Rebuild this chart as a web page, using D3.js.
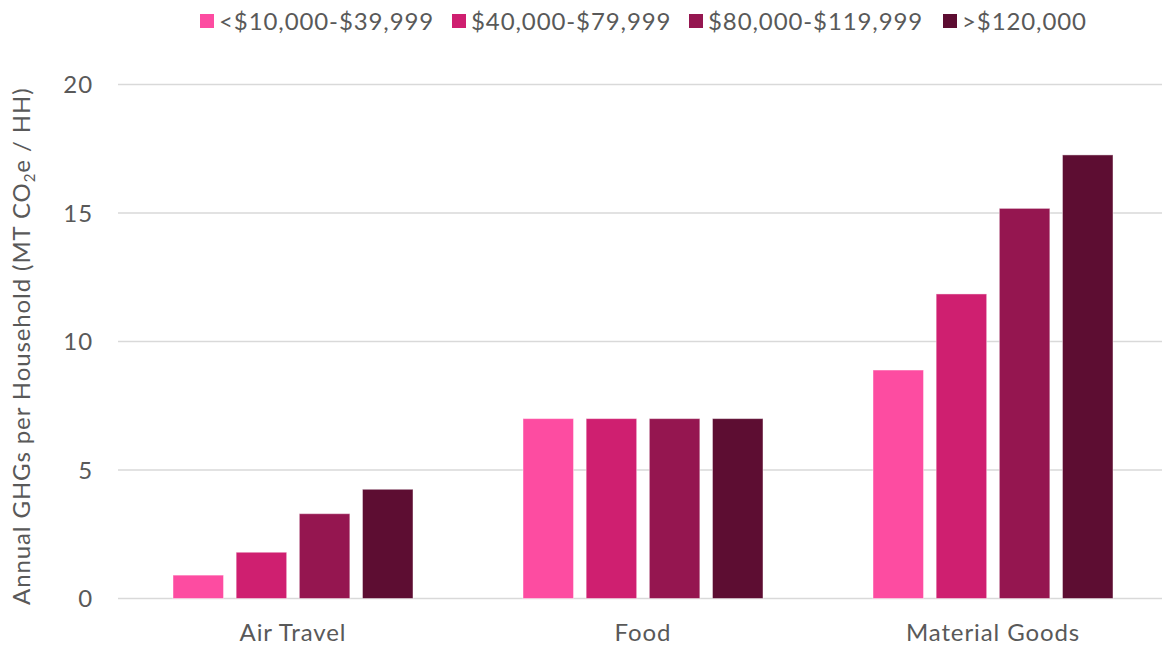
<!DOCTYPE html>
<html>
<head>
<meta charset="utf-8">
<script src="https://cdn.jsdelivr.net/npm/d3@7"></script>
<style>
  html, body { margin: 0; padding: 0; background: #ffffff; }
  svg { display: block; }
  text { font-family: Lato, "Open Sans", sans-serif; fill: #595959; letter-spacing: 0.9px; }
</style>
</head>
<body>
<svg id="chart" width="1162" height="645"></svg>
<script>
const categories = ["Air Travel", "Food", "Material Goods"];
const seriesNames = ["<$10,000-$39,999", "$40,000-$79,999", "$80,000-$119,999", ">$120,000"];
const seriesColors = ["#FD4CA1", "#CF1F70", "#951650", "#5D0D32"];
const low = [0.91, 7.0, 8.89];
const mid = [1.80, 7.0, 11.85];
const upper = [3.30, 7.0, 15.18];
const high = [4.25, 7.0, 17.26];
const yTicks = [0, 5, 10, 15, 20];

const seriesValues = [low, mid, upper, high];

const svg = d3.select("#chart");
const W = 1162, H = 645;
const plot = { left: 118, right: 1168, top: 84.5, bottom: 598.5 };

const x = d3.scaleBand().domain(categories).range([plot.left, plot.right]).paddingInner(0).paddingOuter(0);
const xSub = d3.scaleBand().domain(seriesNames).range([55, 295]).paddingInner(0.2);
const y = d3.scaleLinear().domain([0, 20]).range([plot.bottom, plot.top]);

// gridlines
svg.append("g").selectAll("line").data(yTicks).join("line")
  .attr("x1", plot.left).attr("x2", W)
  .attr("y1", d => y(d)).attr("y2", d => y(d))
  .attr("stroke", "#d9d9d9").attr("stroke-width", 1.5);

// y tick labels
svg.append("g").selectAll("text").data(yTicks).join("text")
  .attr("x", 93).attr("y", d => y(d)).attr("dy", "0.36em")
  .attr("text-anchor", "end").attr("font-size", 24)
  .text(d => d);

// bars
const rows = [];
seriesValues.forEach((vals, si) => {
  vals.forEach((v, ci) => rows.push({ s: seriesNames[si], si, c: categories[ci], v }));
});
svg.append("g").selectAll("rect").data(rows).join("rect")
  .attr("x", d => x(d.c) + xSub(d.s))
  .attr("width", xSub.bandwidth())
  .attr("y", d => y(d.v))
  .attr("height", d => y(0) - y(d.v))
  .attr("fill", d => seriesColors[d.si])
  .attr("stroke", "rgba(255,255,255,0.45)")
  .attr("stroke-width", 1);

// category labels
svg.append("g").selectAll("text").data(categories).join("text")
  .attr("x", d => x(d) + 175).attr("y", 641)
  .attr("text-anchor", "middle").attr("font-size", 24)
  .text(d => d);

// y-axis title
const yt = svg.append("text")
  .attr("transform", `translate(30, ${(plot.top + 608) / 2}) rotate(-90)`)
  .attr("text-anchor", "middle").attr("font-size", 24);
yt.append("tspan").text("Annual GHGs per Household (MT CO");
yt.append("tspan").attr("font-size", 15).attr("dy", 5).text("2");
yt.append("tspan").attr("dy", -5).text("e / HH)");

// legend
const legendX = [200, 452, 689, 943];
const lg = svg.append("g").selectAll("g").data(seriesNames).join("g")
  .attr("transform", (d, i) => `translate(${legendX[i]}, 21)`);
lg.append("rect").attr("x", 0).attr("y", -7).attr("width", 14).attr("height", 14)
  .attr("fill", (d, i) => seriesColors[i]);
lg.append("text").attr("x", 19).attr("y", 0).attr("dy", "0.36em")
  .attr("font-size", 24).text(d => d);
</script>
</body>
</html>
